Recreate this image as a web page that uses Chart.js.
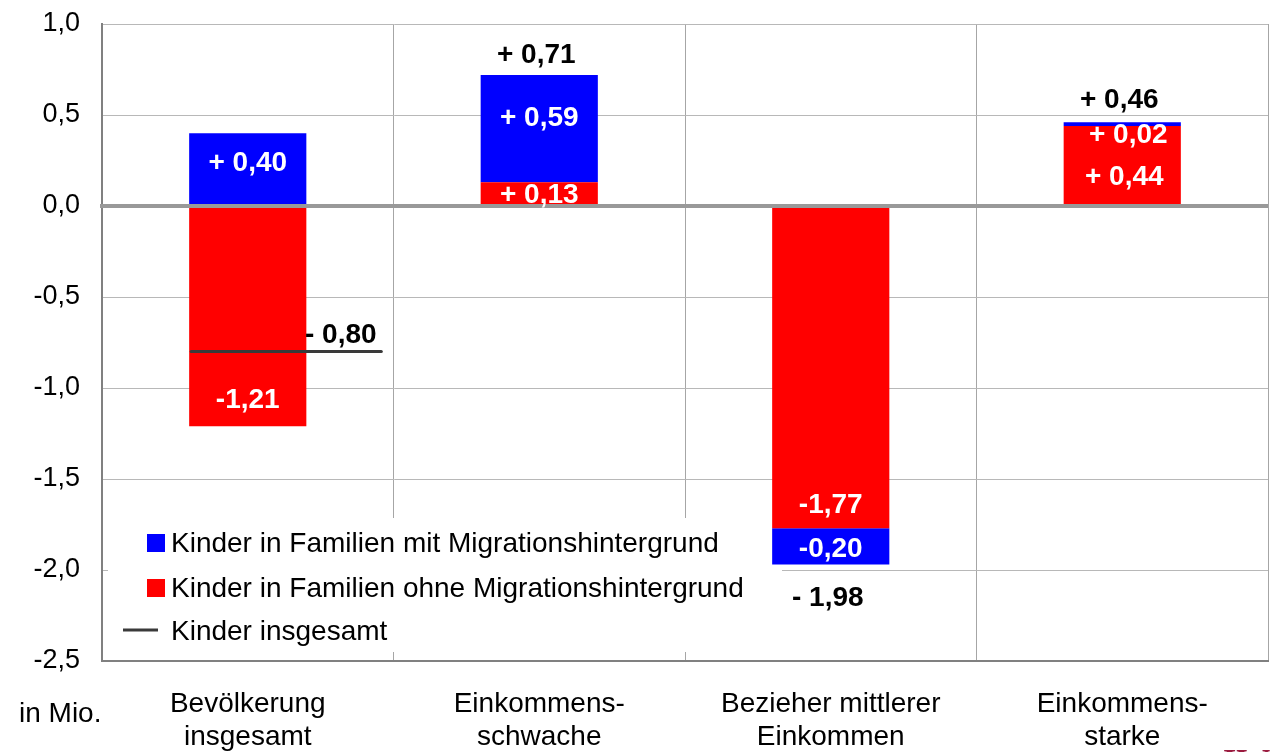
<!DOCTYPE html>
<html>
<head>
<meta charset="utf-8">
<script src="https://cdn.jsdelivr.net/npm/chart.js@4/dist/chart.umd.min.js"></script>
<style>
  html, body { margin: 0; padding: 0; background: #fff; }
  #wrap { width: 1270px; height: 752px; position: relative; }
</style>
</head>
<body>
<div id="wrap"><canvas id="c" width="1270" height="752"></canvas></div>
<script>
// ---- Data ----
const categories = [
  ["Bevölkerung", "insgesamt"],
  ["Einkommens-", "schwache"],
  ["Bezieher mittlerer", "Einkommen"],
  ["Einkommens-", "starke"]
];
const seriesOhne = [-1.21, 0.13, -1.77, 0.44];   // Kinder in Familien ohne Migrationshintergrund
const seriesMit  = [0.40, 0.59, -0.20, 0.02];    // Kinder in Familien mit Migrationshintergrund
const totals     = [-0.80, 0.71, -1.98, 0.46];   // Kinder insgesamt
const showTotalLine = [true, false, false, false];
const yTicks = { min: -2.5, max: 1.0, step: 0.5 };
const legendLabels = [
  "Kinder in Familien mit Migrationshintergrund",
  "Kinder in Familien ohne Migrationshintergrund",
  "Kinder insgesamt"
];
const unitLabel = "in Mio.";

// ---- Styles ----
const BLUE = "#0000FF", RED = "#FF0000", LINE = "#3a3a3a";
const FONT = "'Liberation Sans', Arial, sans-serif";

function fmt(v) { return Math.abs(v).toFixed(2).replace('.', ','); }
function segLabel(v) { return v >= 0 ? "+ " + fmt(v) : "-" + fmt(v); }
function totLabel(v) { return v >= 0 ? "+ " + fmt(v) : "- " + fmt(v); }

// label pixel offsets from segment centres (placement only)
const redOffsets  = [[0, 81], [0, 0], [0, 135], [2, 10]];
const blueOffsets = [[0, -8], [0, -13], [0, 1], [6, 9]];

const overlay = {
  id: 'overlay',
  beforeDatasetsDraw(chart) {
    const ctx = chart.ctx;
    ctx.save();
    // legend box (bars are drawn over it)
    ctx.fillStyle = "#ffffff";
    ctx.fillRect(108, 518, 674, 134);
    ctx.font = "28px " + FONT;
    ctx.textAlign = "left";
    ctx.textBaseline = "alphabetic";
    ctx.fillStyle = BLUE; ctx.fillRect(147, 534, 18, 18);
    ctx.fillStyle = RED;  ctx.fillRect(147, 579, 18, 18);
    ctx.strokeStyle = LINE; ctx.lineWidth = 3; ctx.lineCap = "butt";
    ctx.beginPath(); ctx.moveTo(123, 630); ctx.lineTo(158, 630); ctx.stroke();
    ctx.fillStyle = "#000000";
    ctx.fillText(legendLabels[0], 171, 552);
    ctx.fillText(legendLabels[1], 171, 597);
    ctx.fillText(legendLabels[2], 171, 640);
    ctx.restore();
  },
  afterDatasetsDraw(chart) {
    const ctx = chart.ctx;
    const area = chart.chartArea;
    const ys = chart.scales.y;
    const y0 = ys.getPixelForValue(0);
    // zero line over bars
    ctx.save();
    ctx.strokeStyle = "#999999";
    ctx.lineWidth = 4;
    ctx.beginPath();
    ctx.moveTo(area.left - 2, y0);
    ctx.lineTo(area.right, y0);
    ctx.stroke();

    // total line (category 1)
    const metaR = chart.getDatasetMeta(0);
    const metaB = chart.getDatasetMeta(1);
    ctx.strokeStyle = LINE;
    ctx.lineWidth = 3;
    ctx.lineCap = "round";
    totals.forEach((t, i) => {
      if (!showTotalLine[i]) return;
      const el = metaR.data[i];
      const yy = ys.getPixelForValue(t);
      ctx.beginPath();
      ctx.moveTo(el.x - el.width / 2 + 2, yy);
      ctx.lineTo(el.x + el.width / 2 + 75, yy);
      ctx.stroke();
    });

    // segment labels
    ctx.font = "bold 28px " + FONT;
    ctx.textAlign = "center";
    ctx.textBaseline = "alphabetic";
    ctx.fillStyle = "#ffffff";
    [[metaR, seriesOhne, redOffsets], [metaB, seriesMit, blueOffsets]].forEach(([meta, vals, offs]) => {
      meta.data.forEach((el, i) => {
        const cy = (el.y + el.base) / 2 + offs[i][1];
        ctx.fillText(segLabel(vals[i]), el.x + offs[i][0], cy + 10);
      });
    });

    // total labels
    ctx.fillStyle = "#000000";
    totals.forEach((t, i) => {
      const el = metaR.data[i];
      const yy = ys.getPixelForValue(t);
      let x = el.x, cy;
      if (showTotalLine[i]) { x = el.x + 96; cy = yy - 19; }
      else if (t >= 0) { cy = yy - 24; }
      else { cy = yy + 30; }
      ctx.fillText(totLabel(t), x - 3, cy + 10);
    });

    // unit label
    ctx.font = "28px " + FONT;
    ctx.textAlign = "left";
    ctx.fillText(unitLabel, 19, 722);

    // logo fragment
    ctx.font = "bold 34px 'Liberation Serif', 'DejaVu Serif', serif";
    ctx.fillStyle = "#9b1b3f";
    ctx.fillText("IW", 1223, 772);
    ctx.restore();
  }
};

new Chart(document.getElementById('c'), {
  type: 'bar',
  data: {
    labels: categories,
    datasets: [
      { label: legendLabels[1], data: seriesOhne, backgroundColor: RED, stack: 's' },
      { label: legendLabels[0], data: seriesMit, backgroundColor: BLUE, stack: 's' }
    ]
  },
  options: {
    responsive: false,
    animation: false,
    layout: { padding: { top: 24, right: 2, left: 0, bottom: 0 } },
    datasets: { bar: { categoryPercentage: 1.0, barPercentage: 0.402 } },
    plugins: { legend: { display: false }, tooltip: { enabled: false } },
    scales: {
      x: {
        stacked: true,
        grid: { offset: true, color: "#a6a6a6", lineWidth: 1, drawTicks: false },
        border: { display: true, color: "#808080", width: 2 },
        ticks: { color: "#000", font: { family: FONT, size: 28 }, padding: 26, maxRotation: 0, autoSkip: false },
        afterFit(scale) { scale.height = 91; }
      },
      y: {
        stacked: true,
        min: yTicks.min, max: yTicks.max,
        grid: {
          color: ctx => (ctx.tick && ctx.tick.value === 0) ? "#999999" : "#b8b8b8",
          lineWidth: ctx => (ctx.tick && ctx.tick.value === 0) ? 4 : 1,
          drawTicks: true, tickLength: 22, tickColor: "rgba(0,0,0,0)"
        },
        border: { display: true, color: "#808080", width: 2 },
        ticks: {
          stepSize: yTicks.step, color: "#000", padding: 0,
          font: { family: FONT, size: 27 },
          callback: v => v.toFixed(1).replace('.', ',')
        },
        afterFit(scale) { scale.width = 102; }
      }
    }
  },
  plugins: [overlay]
});
</script>
</body>
</html>
